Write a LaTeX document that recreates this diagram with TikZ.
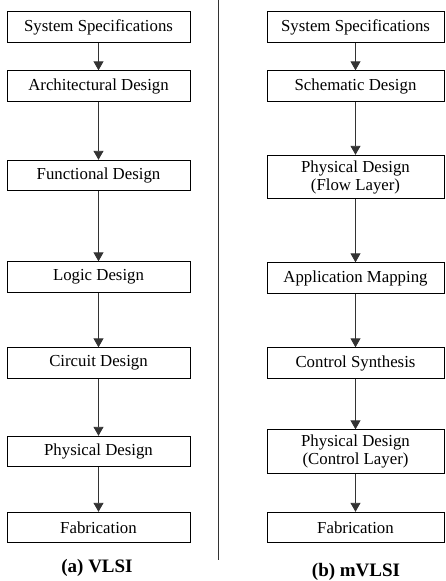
\documentclass[tikz,border=0pt]{standalone}
\usepackage{fontspec}
\setmainfont{Liberation Serif}
\usetikzlibrary{arrows.meta}
\newcommand{\stepfont}{\fontsize{16.8}{18}\selectfont}
\newcommand{\capfont}{\fontsize{19}{21}\selectfont\bfseries}

\begin{document}
\begin{tikzpicture}[x=1pt,y=-1pt]
  \tikzset{stage/.style={draw,line width=0.9pt,inner sep=0pt,align=center,
                         minimum height=30.5pt,font=\stepfont},
           leftstage/.style={stage,minimum width=183pt},
           rightstage/.style={stage,minimum width=177pt},
           tall/.style={minimum height=43.5pt},
           flow/.style={line width=0.9pt,draw=black!80,-{Triangle[width=10pt,length=9pt]}}}
  \useasboundingbox (0,0) rectangle (445,581);
  % (a) VLSI
  \node[leftstage](SSa) at (98.5,27) {System Specifications};
  \node[leftstage](ARCa) at (98.5,86) {Architectural Design};
  \node[leftstage](FUNa) at (98.5,175.5) {Functional Design};
  \node[leftstage](LOGa) at (98.5,277) {Logic Design};
  \node[leftstage](CIRa) at (98.5,363) {Circuit Design};
  \node[leftstage](PHYa) at (98.5,451.5) {Physical Design};
  \node[leftstage](FABa) at (98.5,527.5) {Fabrication};
  \node[font=\capfont](CAPa) at (97,568) {(a) VLSI};
  % (b) mVLSI
  \node[rightstage](SSb) at (355.5,27) {System Specifications};
  \node[rightstage](SCHb) at (355.5,86) {Schematic Design};
  \node[rightstage,tall](FLOb) at (355.5,177) {Physical Design\\(Flow Layer)};
  \node[rightstage](MAPb) at (355.5,278) {Application Mapping};
  \node[rightstage](CTLb) at (355.5,363) {Control Synthesis};
  \node[rightstage,tall](PCLb) at (355.5,451.5) {Physical Design\\(Control Layer)};
  \node[rightstage](FABb) at (355.5,527.5) {Fabrication};
  \node[font=\capfont](CAPb) at (356,572) {(b) mVLSI};
  % divider
  \coordinate (DIVtop) at (218,0);
  \coordinate (DIVbot) at (218,560);
  \draw[line width=0.9pt,black!80] (DIVtop) -- (DIVbot);
  % arrows
  \draw[flow] (SSa) -- (ARCa);
  \draw[flow] (ARCa) -- (FUNa);
  \draw[flow] (FUNa) -- (LOGa);
  \draw[flow] (LOGa) -- (CIRa);
  \draw[flow] (CIRa) -- (PHYa);
  \draw[flow] (PHYa) -- (FABa);
  \draw[flow] (SSb) -- (SCHb);
  \draw[flow] (SCHb) -- (FLOb);
  \draw[flow] (FLOb) -- (MAPb);
  \draw[flow] (MAPb) -- (CTLb);
  \draw[flow] (CTLb) -- (PCLb);
  \draw[flow] (PCLb) -- (FABb);
\end{tikzpicture}
\end{document}
